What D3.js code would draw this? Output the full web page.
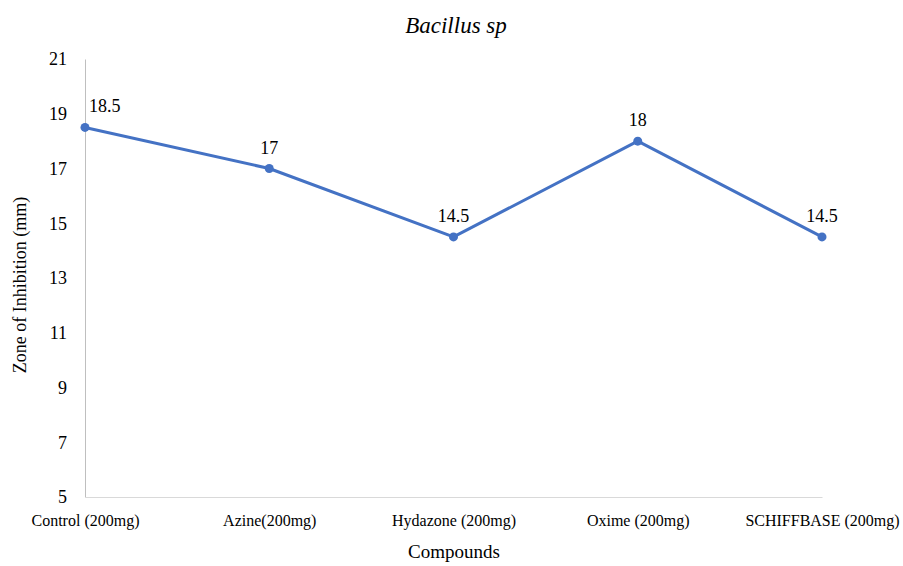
<!DOCTYPE html>
<html><head><meta charset="utf-8">
<script src="https://cdn.jsdelivr.net/npm/d3@7"></script>
<style>body{margin:0;background:#fff}svg{display:block}text{font-family:"Liberation Serif","Times New Roman",serif !important;fill:#000}</style>
</head><body><svg id="c" width="903" height="566"></svg>
<script>
const categories = ["Control (200mg)", "Azine(200mg)", "Hydazone (200mg)", "Oxime (200mg)", "SCHIFFBASE (200mg)"];
const values = [18.5, 17, 14.5, 18, 14.5];
const yTicks = [5, 7, 9, 11, 13, 15, 17, 19, 21];
const title = "Bacillus sp";
const xTitle = "Compounds";
const yTitle = "Zone of Inhibition (mm)";

(function () {
const FF = "Liberation Serif";
const svg = d3.select("#c");
const mLeft = 85, mRight = 822, mTop = 59, mBottom = 497;
const x = d3.scalePoint().domain(categories).range([mLeft, mRight]);
const y = d3.scaleLinear().domain([5, 21]).range([mBottom, mTop]);

const yAxis = svg.append("g").attr("transform", `translate(${mLeft},0)`)
  .call(d3.axisLeft(y).tickValues(yTicks).tickSize(0).tickPadding(18))
  .attr("font-family", FF).attr("font-size", 18);
yAxis.select(".domain").attr("stroke", "#bfbfbf").attr("stroke-width", 1);
yAxis.selectAll("text").attr("fill", "#000");

const xAxis = svg.append("g").attr("transform", `translate(0,${mBottom})`)
  .call(d3.axisBottom(x).tickSize(0).tickPadding(18))
  .attr("font-family", FF).attr("font-size", 16);
xAxis.select(".domain").attr("stroke", "#d9d9d9").attr("stroke-width", 1);
xAxis.selectAll("text").attr("fill", "#000");

svg.append("path").datum(values)
  .attr("fill", "none").attr("stroke", "#4472C4").attr("stroke-width", 3)
  .attr("stroke-linejoin", "round")
  .attr("d", d3.line().x((d, i) => x(categories[i])).y(d => y(d)));

svg.selectAll("circle.pt").data(values).join("circle")
  .attr("class", "pt")
  .attr("cx", (d, i) => x(categories[i])).attr("cy", d => y(d))
  .attr("r", 4.5).attr("fill", "#4472C4");

svg.selectAll("text.lbl").data(values).join("text")
  .attr("class", "lbl")
  .attr("font-family", FF)
  .attr("x", (d, i) => i === 0 ? x(categories[i]) + 4 : x(categories[i]))
  .attr("y", d => y(d) - 15)
  .attr("text-anchor", (d, i) => i === 0 ? "start" : "middle")
  .attr("font-size", 18)
  .text(d => d);

svg.append("text").attr("x", 456).attr("y", 33).attr("text-anchor", "middle")
  .attr("font-family", FF).attr("font-size", 23).attr("font-style", "italic").text(title);
svg.append("text").attr("x", 454).attr("y", 558).attr("text-anchor", "middle")
  .attr("font-family", FF).attr("font-size", 19).text(xTitle);
svg.append("text").attr("transform", "translate(26,285) rotate(-90)").attr("text-anchor", "middle")
  .attr("font-family", FF).attr("font-size", 18).text(yTitle);
})();
</script></body></html>
